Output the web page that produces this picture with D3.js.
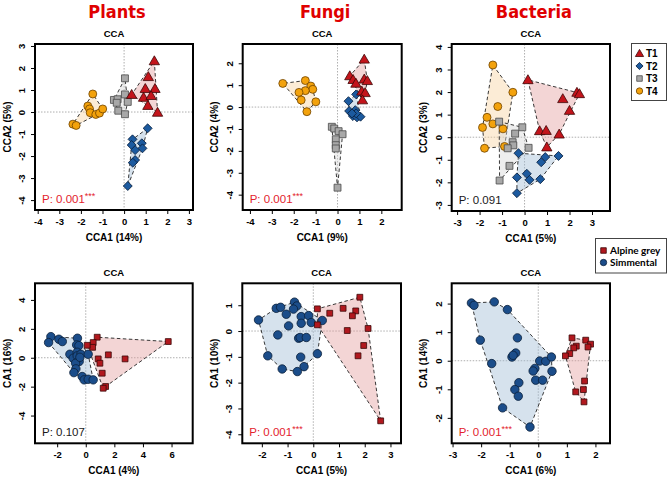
<!DOCTYPE html>
<html><head><meta charset="utf-8">
<script src="https://cdn.jsdelivr.net/npm/d3@7"></script>
<style>body{margin:0;background:#fff}svg{display:block}</style>
</head><body><svg id="c" width="667" height="479"></svg>
<script>
// ---------- DATA ----------
const columnTitles = ["Plants", "Fungi", "Bacteria"];
const treatments = ["T1", "T2", "T3", "T4"];
const breeds = ["Alpine grey", "Simmental"];

// Top row: treatments (CCA1, CCA2)
const plantsT1 = [[1.40,2.32],[1.12,1.60],[0.35,0.79],[0.98,1.06],[1.43,1.06],[0.90,0.66],[1.25,0.74],[1.10,0.29],[1.55,-0.02]];
const plantsT2 = [[1.09,-0.74],[0.39,-1.24],[0.35,-1.50],[0.82,-1.42],[0.85,-1.65],[0.51,-1.73],[0.51,-2.18],[0.40,-2.30],[0.17,-3.36]];
const plantsT3 = [[0.04,1.53],[-0.47,0.55],[-0.30,0.58],[-0.34,0.42],[0.04,0.80],[0.17,0.46],[-0.27,0.06],[0.04,-0.10]];
const plantsT4 = [[-1.45,0.82],[-1.68,0.27],[-1.60,0.14],[-1.57,-0.03],[-1.31,-0.11],[-1.14,-0.05],[-0.99,0.14],[-2.37,-0.55],[-2.22,-0.61]];

const fungiT1 = [[1.22,2.18],[0.56,1.42],[0.71,1.25],[0.84,1.08],[1.22,1.27],[1.36,1.20],[1.11,0.72],[1.26,0.65],[1.14,0.32]];
const fungiT2 = [[0.85,0.58],[0.50,0.27],[0.53,-0.18],[0.81,-0.14],[0.70,-0.41],[0.89,-0.47],[1.05,-0.44],[0.85,-0.29],[0.66,-0.29]];
const fungiT3 = [[-0.26,-0.90],[-0.15,-0.98],[0.05,-1.10],[0.23,-1.24],[-0.08,-1.47],[-0.08,-1.74],[-0.08,-1.89],[0.00,-3.68]];
const fungiT4 = [[-2.50,1.08],[-1.47,1.21],[-1.22,0.96],[-1.13,0.81],[-1.47,0.75],[-1.76,0.67],[-1.66,0.32],[-0.99,0.24],[-1.40,-0.21]];

const bactT1 = [[0.15,2.54],[2.33,1.98],[2.44,1.92],[1.70,1.70],[2.00,1.18],[0.67,0.28],[0.96,0.29],[1.54,0.13],[0.99,-0.44]];
const bactT2 = [[-0.27,-0.71],[1.51,-0.83],[0.92,-0.88],[0.74,-1.11],[-0.34,-1.78],[0.10,-1.62],[0.22,-1.89],[0.70,-1.86],[-0.34,-2.48]];
const bactT3 = [[-1.13,0.69],[-0.10,0.44],[-0.42,0.16],[-0.53,-0.22],[-0.50,-0.36],[-0.75,-0.49],[0.18,-0.47],[-0.67,-1.27],[-1.11,-1.92]];
const bactT4 = [[-1.41,3.20],[-0.52,1.99],[-1.19,1.36],[-1.67,0.88],[-1.41,0.59],[-1.87,0.43],[-0.96,0.37],[-1.78,-0.49],[-0.89,-0.41]];

// Bottom row: breeds (CCA1, CA1)
const plantsAlpine = [[0.80,1.42],[0.52,1.05],[0.48,0.72],[0.10,0.86],[5.77,1.12],[1.58,0.20],[2.75,-0.08],[0.87,-0.08],[0.99,-0.38],[1.15,-1.07],[1.39,-1.99],[1.22,-2.11]];
const plantsSimm = [[-2.44,1.46],[-2.60,1.05],[-1.88,1.28],[-1.64,1.12],[-0.58,1.35],[-0.64,0.89],[-0.48,0.84],[-1.11,0.24],[-0.88,-0.03],[-0.60,0.38],[-0.60,0.13],[-0.34,0.24],[-0.46,-0.26],[-0.71,-0.38],[-0.69,-0.77],[-0.83,-1.03],[0.17,0.24],[-0.25,-1.30],[-0.11,-1.53],[0.17,-1.49],[0.52,-1.53],[-0.41,0.03]];

const fungiAlpine = [[0.16,0.86],[0.16,0.24],[0.64,0.69],[1.16,0.88],[1.65,0.78],[1.52,0.59],[1.81,1.31],[1.32,0.02],[2.13,0.10],[1.96,-0.56],[1.74,-0.96],[2.62,-3.48]];
const fungiSimm = [[-2.13,0.43],[-1.44,0.88],[-1.27,0.92],[-0.73,1.12],[-0.64,0.97],[-0.77,0.85],[-1.05,0.65],[-0.47,0.56],[-0.18,0.60],[-0.96,0.20],[-0.47,0.30],[-0.08,0.33],[0.35,0.41],[-1.38,-0.15],[-0.57,-0.28],[-0.51,-0.25],[-0.27,-0.25],[-1.77,-0.96],[-0.49,-1.01],[0.16,-0.88],[-1.21,-1.47],[-0.36,-1.38],[-0.62,-1.57]];

const bactAlpine = [[1.18,0.80],[1.66,0.72],[1.83,0.58],[1.74,0.48],[1.33,0.51],[1.24,0.45],[1.10,0.25],[0.95,0.17],[1.62,-0.71],[1.58,-1.01],[1.31,-1.09],[1.60,-1.44]];
const bactSimm = [[-2.34,2.02],[-2.25,1.94],[-1.54,2.06],[-1.08,1.79],[-2.03,0.72],[-0.73,0.80],[-0.79,0.27],[-0.92,0.13],[-0.88,0.19],[-1.63,-0.10],[0.05,-0.01],[0.26,-0.02],[0.46,0.13],[0.48,-0.37],[-0.12,-0.27],[-0.18,-0.36],[-0.09,-0.68],[0.15,-0.68],[-0.68,-0.77],[-0.82,-1.01],[-0.70,-1.24],[-1.25,-1.65],[-0.29,-2.32]];

// Tick values
const plantsTopXTicks = [-4,-3,-2,-1,0,1,2,3];
const plantsTopYTicks = [-4,-3,-2,-1,0,1,2,3];
const fungiTopXTicks = [-4,-3,-2,-1,0,1,2];
const fungiTopYTicks = [-4,-3,-2,-1,0,1,2];
const bactTopXTicks = [-3,-2,-1,0,1,2,3];
const bactTopYTicks = [-3,-2,-1,0,1,2,3,4];
const plantsBotXTicks = [-2,0,2,4,6];
const plantsBotYTicks = [-4,-2,0,2,4];
const fungiBotXTicks = [-2,-1,0,1,2,3];
const fungiBotYTicks = [-4,-3,-2,-1,0,1];
const bactBotXTicks = [-3,-2,-1,0,1,2];
const bactBotYTicks = [-2,-1,0,1,2];

// Axis labels and p-values
const xLabels = ["CCA1 (14%)","CCA1 (9%)","CCA1 (5%)","CCA1 (4%)","CCA1 (5%)","CCA1 (6%)"];
const yLabels = ["CCA2 (5%)","CCA2 (4%)","CCA2 (3%)","CA1 (16%)","CA1 (10%)","CA1 (14%)"];
const pValues = ["0.001","0.001","0.091","0.107","0.001","0.001"];
const pSignificant = [true,true,false,false,true,true];

// ---------- STYLE ----------
const style = {
  T1: {shape:"tri", fill:"#c3141b", stroke:"#3d0606", hull:"#e29a9a"},
  T2: {shape:"dia", fill:"#1c5a9f", stroke:"#08203f", hull:"#9dbbd5"},
  T3: {shape:"sq",  fill:"#a8a8a8", stroke:"#4a4a4a", hull:"#d6d6d6"},
  T4: {shape:"cir", fill:"#f3a20c", stroke:"#6e4300", hull:"#f8d29e"},
  "Alpine grey": {shape:"sqs", fill:"#b1181e", stroke:"#3a0808", hull:"#e29a9a"},
  "Simmental":   {shape:"cirb", fill:"#1b4d8a", stroke:"#0a1f3a", hull:"#9dbbd5"}
};

const panels = [
  {box:[35,193,44,210], xd:[-4.125,3.19], yd:[-4.45,3.09], xt:plantsTopXTicks, yt:plantsTopYTicks,
   groups:[["T4",plantsT4],["T3",plantsT3],["T2",plantsT2],["T1",plantsT1]]},
  {box:[242.7,401.7,44,210], xd:[-4.33,2.93], yd:[-4.70,2.88], xt:fungiTopXTicks, yt:fungiTopYTicks,
   groups:[["T4",fungiT4],["T3",fungiT3],["T2",fungiT2],["T1",fungiT1]]},
  {box:[451.7,610,44,211], xd:[-3.24,3.80], yd:[-3.27,4.13], xt:bactTopXTicks, yt:bactTopYTicks,
   groups:[["T4",bactT4],["T3",bactT3],["T2",bactT2],["T1",bactT1]]},
  {box:[35,192.7,283.3,443.3], xd:[-3.55,7.48], yd:[-5.92,5.15], xt:plantsBotXTicks, yt:plantsBotYTicks,
   groups:[["Simmental",plantsSimm],["Alpine grey",plantsAlpine]]},
  {box:[242.3,401,283.3,443.3], xd:[-2.76,3.41], yd:[-4.35,1.85], xt:fungiBotXTicks, yt:fungiBotYTicks,
   groups:[["Simmental",fungiSimm],["Alpine grey",fungiAlpine]]},
  {box:[451.7,610,283.3,443.3], xd:[-3.03,2.51], yd:[-2.89,2.71], xt:bactBotXTicks, yt:bactBotYTicks,
   groups:[["Simmental",bactSimm],["Alpine grey",bactAlpine]]}
];

const svg = d3.select("#c");
const FONT = "'Liberation Sans', Arial, sans-serif";
const fmt = d => String(d);  // plain hyphen-minus like R

function marker(sel, shape, cx, cy, st, scale=1) {
  let path;
  if (shape === "tri") path = d3.symbol(d3.symbolTriangle, 46*scale*scale)();
  else if (shape === "dia") path = d3.symbol(d3.symbolSquare, 40*scale*scale)();
  else if (shape === "sq") path = d3.symbol(d3.symbolSquare, 48*scale*scale)();
  else if (shape === "sqs") path = d3.symbol(d3.symbolSquare, 34*scale*scale)();
  else if (shape === "cirb") path = d3.symbol(d3.symbolCircle, 56*scale*scale)();
  else path = d3.symbol(d3.symbolCircle, 50*scale*scale)();
  const rot = shape === "dia" ? " rotate(45)" : "";
  const dy = shape === "tri" ? 0.8*scale : 0;
  sel.append("path").attr("d", path)
    .attr("transform", `translate(${cx},${cy+dy})${rot}`)
    .attr("fill", st.fill).attr("stroke", st.stroke).attr("stroke-width", 0.8);
}

// Column titles
columnTitles.forEach((t,i) => {
  const b = panels[i].box;
  svg.append("text").attr("x", (b[0]+b[1])/2 + 3).attr("y", 18)
    .attr("text-anchor","middle").attr("fill","#e00000")
    .style("font", "bold 18px 'DejaVu Sans Condensed', 'DejaVu Sans', sans-serif")
    .text(t);
});

panels.forEach((p, i) => {
  const [x0,x1,y0,y1] = p.box;
  const x = d3.scaleLinear().domain(p.xd).range([x0,x1]);
  const y = d3.scaleLinear().domain(p.yd).range([y1,y0]);
  const g = svg.append("g");

  g.append("text").attr("x",(x0+x1)/2).attr("y",y0-7.5).attr("text-anchor","middle")
    .style("font",`bold 9.5px ${FONT}`).text("CCA");

  g.append("line").attr("x1",x(0)).attr("x2",x(0)).attr("y1",y0).attr("y2",y1)
    .attr("stroke","#9a9a9a").attr("stroke-width",0.8).attr("stroke-dasharray","1.5,1.5");
  g.append("line").attr("x1",x0).attr("x2",x1).attr("y1",y(0)).attr("y2",y(0))
    .attr("stroke","#9a9a9a").attr("stroke-width",0.8).attr("stroke-dasharray","1.5,1.5");

  p.groups.forEach(([name, data]) => {
    const pts = data.map(d => [x(d[0]), y(d[1])]);
    const hull = d3.polygonHull(pts);
    g.append("path").attr("d", "M" + hull.join("L") + "Z")
      .attr("fill", style[name].hull).attr("fill-opacity", 0.42)
      .attr("stroke", "#222").attr("stroke-width", 0.9).attr("stroke-dasharray", "3.5,2.5");
  });
  p.groups.forEach(([name, data]) => {
    data.forEach(d => marker(g, style[name].shape, x(d[0]), y(d[1]), style[name]));
  });

  const ax = g.append("g").attr("transform",`translate(0,${y1})`)
    .call(d3.axisBottom(x).tickValues(p.xt).tickSize(4).tickSizeOuter(0).tickPadding(4).tickFormat(fmt));
  ax.select(".domain").remove();
  ax.selectAll("line").attr("stroke","#000");
  ax.selectAll("text").style("font",`bold 9.5px ${FONT}`).attr("fill","#000");

  const ay = g.append("g").attr("transform",`translate(${x0},0)`)
    .call(d3.axisLeft(y).tickValues(p.yt).tickSize(4).tickSizeOuter(0).tickFormat(fmt));
  ay.select(".domain").remove();
  ay.selectAll("line").attr("stroke","#000");
  ay.selectAll("text").attr("x",null).attr("dy",null).attr("text-anchor","middle")
    .attr("transform","translate(-10,0) rotate(-90)")
    .style("font",`bold 9.5px ${FONT}`).attr("fill","#000");

  g.append("rect").attr("x",x0).attr("y",y0).attr("width",x1-x0).attr("height",y1-y0)
    .attr("fill","none").attr("stroke","#000").attr("stroke-width",2);

  g.append("text").attr("x",(x0+x1)/2).attr("y",y1+30.5).attr("text-anchor","middle")
    .style("font",`bold 10px ${FONT}`).text(xLabels[i]);
  g.append("text").attr("transform",`translate(${x0-24.5},${(y0+y1)/2}) rotate(-90)`)
    .attr("text-anchor","middle").style("font",`bold 10px ${FONT}`).text(yLabels[i]);

  const t = g.append("text").attr("x",x0+7).attr("y",y1-7.5)
    .attr("fill", pSignificant[i] ? "#e3222c" : "#1a1a1a").style("font",`11.5px ${FONT}`);
  t.append("tspan").text("P: " + pValues[i]);
  if (pSignificant[i]) t.append("tspan").attr("dy",-3.5).style("font-size","9px").text("***");
});

// Legend 1 (treatments)
const lg1 = svg.append("g");
lg1.append("rect").attr("x",631.5).attr("y",43.5).attr("width",35).attr("height",57)
  .attr("fill","#fff").attr("stroke","#444").attr("stroke-width",1);
treatments.forEach((t, k) => {
  const cy = 53.5 + k*12.5;
  marker(lg1, style[t].shape, 639.5, cy, style[t], 0.8);
  lg1.append("text").attr("x",646).attr("y",cy+3.6).style("font",`bold 10px ${FONT}`).text(t);
});

// Legend 2 (breeds)
const lg2 = svg.append("g");
lg2.append("rect").attr("x",595.5).attr("y",238.5).attr("width",71).attr("height",34.5)
  .attr("fill","#fff").attr("stroke","#444").attr("stroke-width",1);
breeds.forEach((b, k) => {
  const cy = 250.5 + k*12;
  marker(lg2, b === "Alpine grey" ? "sq" : "cir", 603.5, cy, style[b], 0.8);
  lg2.append("text").attr("x",610).attr("y",cy+3.6).style("font","bold 10px Lato, 'Open Sans', sans-serif").text(b);
});
</script>
</body></html>
